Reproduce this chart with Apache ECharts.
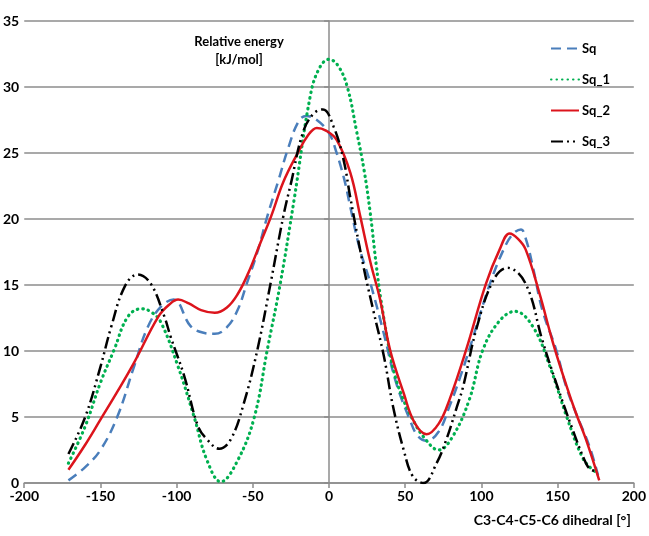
<!DOCTYPE html>
<html>
<head>
<meta charset="utf-8">
<script src="https://cdn.jsdelivr.net/npm/echarts@6/dist/echarts.min.js"></script>
<style>html,body{margin:0;padding:0;background:#fff}#c{width:649px;height:536px}</style>
</head>
<body>
<div id="c"></div>
<script>
var seriesNames = ['Sq', 'Sq_1', 'Sq_2', 'Sq_3'];
var xTicks = [-200, 200, 50];
var yTicks = [0, 35, 5];

var sq = [[-171,0.2],[-160,1.2],[-150,2.5],[-139,5.0],[-128,8.8],[-119,11.8],[-110,13.4],[-102,13.9],[-91,11.9],[-83,11.4],[-75,11.3],[-67,11.8],[-60,13.1],[-54,15.1],[-47,17.5],[-40.5,20.2],[-33,23],[-27,25.3],[-20,27.4],[-15,27.8],[-8,27.5],[0,26.5],[5,25],[10,23],[14,20.9],[20,17.8],[27,15.2],[36,11.3],[44,7.6],[53,4.8],[58,3.6],[64,3.2],[72,3.9],[79,5.8],[86,8],[92,10.1],[105,14.9],[115,17.8],[121,18.9],[126,19.2],[129.4,18.4],[133.7,16.4],[140,13.1],[149,10.1],[155.6,7.3],[162,5.3],[170.8,2.8],[176.5,0.6]];
var sq1 = [[-171,1.5],[-160,4.3],[-150,7.6],[-141,10.1],[-132,12.6],[-123,13.2],[-116,12.9],[-110,12.1],[-99,8.8],[-88.5,5.0],[-80,1.7],[-71,0.1],[-60,1.7],[-49,5.0],[-40.5,10.1],[-32,15.1],[-23,21.4],[-12,29.5],[-6,31.5],[0,32.1],[6,31.6],[12,30],[18,26.7],[23,23.7],[27,20.5],[31,16.5],[34,13.9],[40,9.8],[43.3,8.1],[48.8,6.3],[55,4.8],[62,3.5],[72,2.5],[81,3.5],[92,6.3],[101,10.1],[112,12.3],[122,13.0],[134,11.8],[145,8.8],[156,5.0],[166,2.0],[172,1.1],[177,0.7]];
var sq2 = [[-171,1.0],[-160,2.9],[-150,4.8],[-139,6.9],[-128,9.1],[-112,12.6],[-105,13.5],[-99,13.9],[-92,13.6],[-84,13.1],[-75,12.9],[-67,13.3],[-60,14.3],[-53,15.9],[-45,18.2],[-38,20.2],[-30,22.8],[-21,24.9],[-14,26.3],[-8,26.9],[-2,26.7],[5,26],[14,23.5],[20.5,20.2],[27,16.8],[33.5,13.9],[40,10.1],[49,6.8],[56,4.6],[64,3.7],[72,4.5],[79,6.3],[90,10.1],[103,15.1],[112,17.7],[118.5,18.9],[124,18.5],[129,17.7],[138,14.4],[147,10.6],[156,7.3],[162,5.3],[168.6,3.3],[177.3,0.2]];
var sq3 = [[-171,2.2],[-160,5.0],[-150,8.8],[-143,11.8],[-134,14.9],[-125.5,15.8],[-117,15.1],[-108,12.6],[-104,11.1],[-95,8.1],[-86,4.3],[-80,3.3],[-72,2.6],[-64.5,3.3],[-56,6.0],[-47,10.1],[-38.4,15.1],[-30,20.2],[-25,22.7],[-17,26.6],[-10,28.0],[-4,28.3],[3,27],[9.5,24.5],[14,21.6],[22.6,16.4],[29,13.1],[36,9.6],[42,5.8],[49,2.5],[55,0.5],[62,0],[70.6,1.5],[77,3.3],[84,5.8],[88,7.3],[97,11.8],[108,15.4],[117,16.3],[129,15.1],[140,10.8],[149,7.6],[160,4.0],[168.6,1.5],[172,1.0],[176,0.9]];

var font = 'Lato, "Liberation Sans", sans-serif';
var chart = echarts.init(document.getElementById('c'), null, {renderer: 'canvas'});

function mk(name, data, color, type, width, cap) {
  return {
    name: name, type: 'line', data: data, smooth: 0.4, symbol: 'none',
    lineStyle: {color: color, width: width, type: type, cap: cap || 'butt'},
    itemStyle: {color: color},
    z: 3
  };
}

chart.setOption({
  animation: false,
  backgroundColor: '#fff',
  grid: {left: 23, right: 14, top: 21, bottom: 53, containLabel: false},
  legend: {
    data: seriesNames, orient: 'vertical', left: 550, top: 42,
    itemWidth: 28, itemHeight: 14, itemGap: 18, padding: 0,
    itemStyle: {color: 'rgba(0,0,0,0)', borderWidth: 0, opacity: 0},
    textStyle: {fontFamily: font, fontWeight: 'bold', fontSize: 13, color: '#000', padding: [0,0,0,-2]}
  },
  xAxis: {
    type: 'value', min: xTicks[0], max: xTicks[1], interval: xTicks[2],
    name: 'C3-C4-C5-C6 dihedral [°]', nameLocation: 'end', nameGap: -3,
    nameTextStyle: {fontFamily: font, fontWeight: 'bold', fontSize: 14, color: '#000', align: 'right', verticalAlign: 'top', padding: [30,0,0,0]},
    axisLine: {lineStyle: {color: '#8c8c8c', width: 1.5}},
    axisTick: {show: true, length: 5, lineStyle: {color: '#8c8c8c', width: 1.5}},
    splitLine: {show: false},
    axisLabel: {fontFamily: font, fontWeight: 'bold', fontSize: 14, color: '#000', margin: 6}
  },
  yAxis: {
    type: 'value', min: yTicks[0], max: yTicks[1], interval: yTicks[2],
    name: 'Relative energy\n[kJ/mol]', nameLocation: 'end', nameGap: -48,
    nameTextStyle: {fontFamily: font, fontWeight: 'bold', fontSize: 13, color: '#000', align: 'center', lineHeight: 18, padding: [0,180,0,0]},
    axisLine: {show: true, onZero: true, lineStyle: {color: '#8c8c8c', width: 1.5}},
    axisTick: {show: true, length: 5, lineStyle: {color: '#8c8c8c', width: 1.5}},
    splitLine: {show: true, lineStyle: {color: '#8c8c8c', width: 1.5}},
    axisLabel: {fontFamily: font, fontWeight: 'bold', fontSize: 14, color: '#000', margin: 5}
  },
  series: [
    mk('Sq', sq, '#4a7ebb', [10,6], 2.5),
    mk('Sq_1', sq1, '#00b050', [0.5,5], 3.2, 'round'),
    mk('Sq_2', sq2, '#dc141c', 'solid', 2.5),
    mk('Sq_3', sq3, '#000000', [12,4,2,4,2,4], 2.5)
  ]
});
</script>
</body>
</html>
